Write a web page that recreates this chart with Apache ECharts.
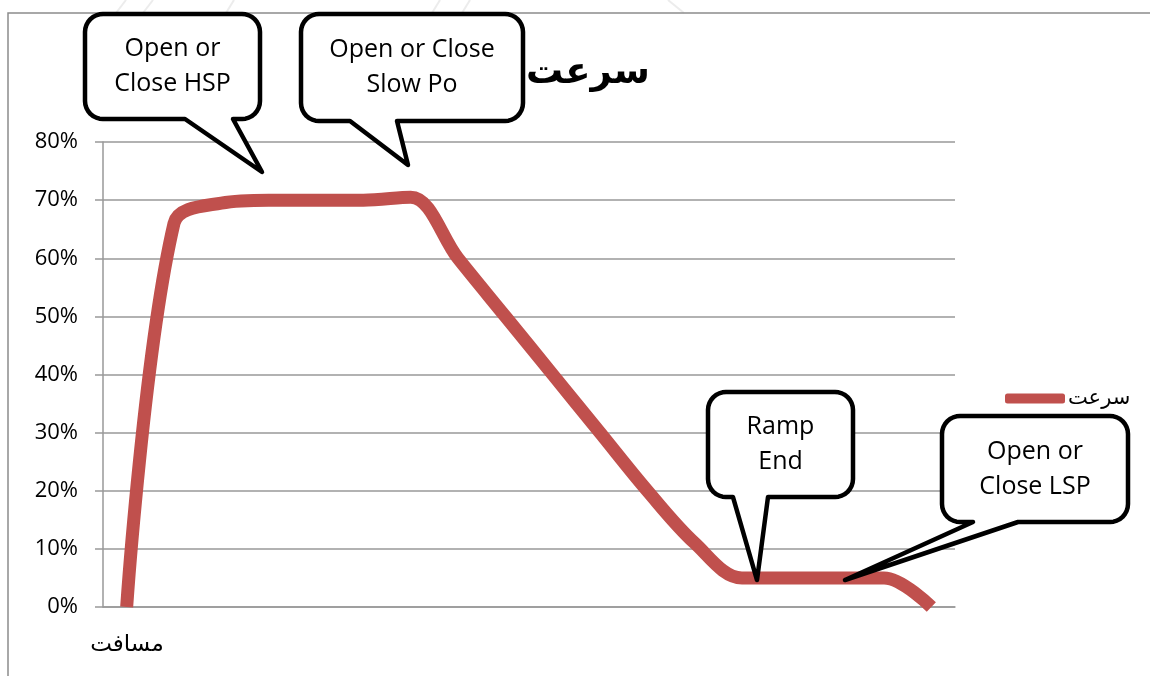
<!DOCTYPE html>
<html>
<head>
<meta charset="utf-8">
<title>سرعت</title>
<script src="https://cdn.jsdelivr.net/npm/echarts@6/dist/echarts.min.js"></script>
<style>
  html, body { margin: 0; padding: 0; background: #fff; }
  #chart { width: 1150px; height: 676px; }
</style>
</head>
<body>
<div id="chart"></div>
<script>
// 18 فاصله روی محور افقی (بدون برچسب)
const categories = ['1', '2', '3', '4', '5', '6', '7', '8', '9', '10', '11', '12', '13', '14', '15', '16', '17', '18']
// سرعت به درصد
const speed = [0, 66, 69.5, 70, 70, 70, 70.5, 60, 50, 40, 30, 20, 11, 5, 5, 5, 5, 0]
const seriesName = 'سرعت'
const xName = 'مسافت'

// callouts: box = [x1, y1, x2, y2], base = pointer start/end on bottom edge, tip = pointer tip
const callouts = [
  { text: 'Open or\nClose HSP', box: [85, 14, 260, 119], base: [185, 233], tip: [262, 172] },
  { text: 'Open or Close\nSlow Po', box: [301, 14, 523, 121], base: [350, 397], tip: [408, 165] },
  { text: 'Ramp\nEnd', box: [708, 392, 853, 497], base: [733, 768], tip: [757, 580] },
  { text: 'Open or\nClose LSP', box: [942, 416, 1128, 522], base: [973, 1018], tip: [845, 580] }
]

// faint background strokes above the chart frame
const watermark = [
  [[116, 13], [126, 0]], [[143, 13], [153, 0]], [[226, 13], [234, 0]],
  [[432, 13], [440, 0]], [[462, 13], [470, 0]], [[668, 0], [684, 13]]
]

function bubblePoints(c) {
  const [x1, y1, x2, y2] = c.box
  const r = 18
  const pts = []
  const arc = (cx, cy, a0) => {
    for (let i = 0; i <= 8; i++) {
      const a = a0 + (i / 8) * Math.PI / 2
      pts.push([cx + r * Math.cos(a), cy + r * Math.sin(a)])
    }
  }
  arc(x1 + r, y1 + r, Math.PI)
  arc(x2 - r, y1 + r, -Math.PI / 2)
  arc(x2 - r, y2 - r, 0)
  pts.push([c.base[1], y2], c.tip, [c.base[0], y2])
  arc(x1 + r, y2 - r, Math.PI / 2)
  return pts
}

const graphics = []
watermark.forEach(seg => {
  graphics.push({
    type: 'polyline', z: -5,
    shape: { points: seg },
    style: { stroke: '#ececec', lineWidth: 2, fill: null }
  })
})
// chart frame
graphics.push({
  type: 'rect', z: -4,
  shape: { x: 8, y: 13, width: 1160, height: 700 },
  style: { fill: null, stroke: '#8c8c8c', lineWidth: 1.5 }
})
// x axis name
graphics.push({
  type: 'text', x: 127, y: 645, z: 10,
  style: {
    text: xName, textAlign: 'center', textVerticalAlign: 'middle',
    font: '23px "DejaVu Sans"', fill: '#000'
  }
})
callouts.forEach(c => {
  graphics.push({
    type: 'polygon', z: 100,
    shape: { points: bubblePoints(c) },
    style: { fill: '#fff', stroke: '#000', lineWidth: 4.5, lineJoin: 'round' }
  })
  graphics.push({
    type: 'text', z: 101,
    x: (c.box[0] + c.box[2]) / 2,
    y: (c.box[1] + c.box[3]) / 2,
    style: {
      text: c.text, textAlign: 'center', textVerticalAlign: 'middle',
      font: '25px "Open Sans"', lineHeight: 35, fill: '#000'
    }
  })
})

const chart = echarts.init(document.getElementById('chart'))
const option = {
  backgroundColor: '#fff',
  animation: false,
  title: {
    text: seriesName,
    left: 521,
    top: 50,
    textStyle: { fontFamily: 'DejaVu Sans', fontSize: 37, fontWeight: 'bold', color: '#000' }
  },
  legend: {
    data: [seriesName],
    left: 1005,
    top: 388,
    padding: 0,
    icon: 'roundRect',
    itemWidth: 60,
    itemHeight: 10,
    itemGap: 0,
    textStyle: { fontFamily: 'DejaVu Sans', fontSize: 21, color: '#000', padding: [0, 0, 4, -2] }
  },
  grid: { left: 103, top: 142, width: 852, height: 465 },
  xAxis: {
    type: 'category',
    data: categories,
    boundaryGap: true,
    axisLine: { lineStyle: { color: '#999', width: 1.5 } },
    axisTick: { length: 9, lineStyle: { color: '#999', width: 1.5 } },
    axisLabel: { show: false }
  },
  yAxis: {
    type: 'value',
    min: 0,
    max: 80,
    interval: 10,
    axisLine: { show: true, lineStyle: { color: '#999', width: 1.5 } },
    axisTick: { show: true, length: 8, lineStyle: { color: '#999', width: 1.5 } },
    splitLine: { lineStyle: { color: '#999', width: 1.5 } },
    axisLabel: {
      formatter: '{value}%',
      margin: 25,
      fontFamily: 'Open Sans',
      fontSize: 22,
      color: '#000'
    }
  },
  series: [
    {
      name: seriesName,
      type: 'line',
      data: speed,
      smooth: 0.35,
      symbol: 'none',
      lineStyle: { color: '#c0504d', width: 13 },
      itemStyle: { color: '#c0504d' }
    }
  ],
  graphic: graphics
}
chart.setOption(option)
</script>
</body>
</html>
